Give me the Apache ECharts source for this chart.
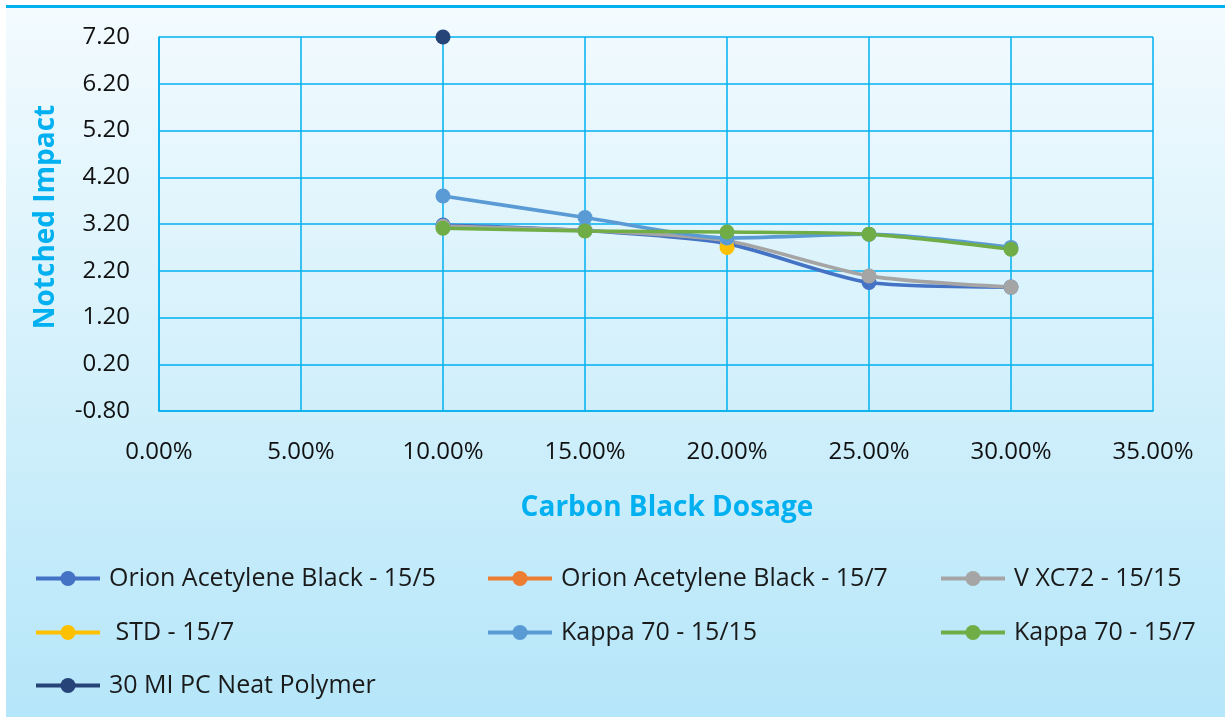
<!DOCTYPE html>
<html>
<head>
<meta charset="utf-8">
<script src="https://cdn.jsdelivr.net/npm/echarts@6/dist/echarts.min.js"></script>
<style>
  html, body { margin: 0; padding: 0; background: #ffffff; }
  #chart { width: 1225px; height: 719px; }
</style>
</head>
<body>
<div id="chart"></div>
<script>
// Carbon black dosage (fraction) on the x axis
const dosage = [0.10, 0.15, 0.20, 0.25, 0.30];

// Notched impact values per grade
const orion155 = [3.18, 3.06, 2.78, 1.95, 1.85];
const orion157 = [];
const vxc72 = [3.15, 3.06, 2.84, 2.09, 1.85];
const std157 = [null, null, 2.70, null, null];
const kappa1515 = [3.80, 3.34, 2.90, 2.98, 2.70];
const kappa157 = [3.11, 3.05, 3.03, 2.98, 2.66];
const neatPolymer = [7.20, null, null, null, null];

// Y axis tick labels
const yTicks = [-0.8, 0.2, 1.2, 2.2, 3.2, 4.2, 5.2, 6.2, 7.2];

const seriesDefs = [
  { name: 'Orion Acetylene Black - 15/5', values: orion155, color: '#4472C4' },
  { name: 'Orion Acetylene Black - 15/7', values: orion157, color: '#ED7D31' },
  { name: 'V XC72 - 15/15', values: vxc72, color: '#A5A5A5' },
  { name: ' STD - 15/7', values: std157, color: '#FFC000' },
  { name: 'Kappa 70 - 15/15', values: kappa1515, color: '#5B9BD5' },
  { name: 'Kappa 70 - 15/7', values: kappa157, color: '#70AD47' },
  { name: '30 MI PC Neat Polymer', values: neatPolymer, color: '#264478' }
];

const font = 'Open Sans, Liberation Sans, sans-serif';
const axisBlue = '#00B0F0';

const series = seriesDefs.map(s => ({
  name: s.name,
  type: 'line',
  smooth: 0.25,
  symbol: 'circle',
  symbolSize: 15,
  connectNulls: false,
  lineStyle: { width: 3.6, color: s.color },
  itemStyle: { color: s.color },
  data: s.values.map((v, i) => [dosage[i], v]).filter(p => p[1] !== null && p[1] !== undefined),
  z: 3
}));

// Legend placement: three columns, three rows
const colX = [34, 486, 939];
const rowY = [566, 620, 673];
const legends = seriesDefs.map((s, i) => ({
  data: [s.name],
  left: colX[i % 3],
  top: rowY[Math.floor(i / 3)],
  padding: 0,
  itemWidth: 64,
  itemHeight: 19,
  itemGap: 0,
  selectedMode: false,
  lineStyle: { width: 4 },
  textStyle: { fontSize: 25, color: '#1a1a1a', fontFamily: font, padding: [0, 0, 0, 4] }
}));

const chart = echarts.init(document.getElementById('chart'), null, { renderer: 'canvas' });
chart.setOption({
  animation: false,
  backgroundColor: 'transparent',
  graphic: [
    {
      type: 'rect', z: -10, silent: true,
      shape: { x: 6, y: 7, width: 1219, height: 710 },
      style: {
        fill: new echarts.graphic.LinearGradient(0, 0, 0, 1, [
          { offset: 0, color: '#F3FBFE' },
          { offset: 1, color: '#B5E6F9' }
        ])
      }
    },
    {
      type: 'rect', z: -9, silent: true,
      shape: { x: 6, y: 5, width: 1219, height: 3 },
      style: { fill: axisBlue }
    }
  ],
  legend: legends,
  grid: { left: 159, right: 72, top: 37, bottom: 308, containLabel: false },
  xAxis: [{
    type: 'value',
    min: 0, max: 0.35, interval: 0.05,
    name: 'Carbon Black Dosage',
    nameLocation: 'middle',
    nameGap: 83,
    nameTextStyle: { fontSize: 28, fontWeight: 'bold', color: axisBlue, fontFamily: font, padding: [0, 0, 0, 22] },
    axisLine: { show: true, onZero: false, lineStyle: { color: axisBlue, width: 1.5 } },
    axisTick: { show: false },
    axisLabel: {
      fontSize: 24, color: '#111', fontFamily: font, margin: 29,
      formatter: v => (v * 100).toFixed(2) + '%'
    },
    splitLine: { show: true, lineStyle: { color: axisBlue, width: 1.5 } }
  }],
  yAxis: [{
    type: 'value',
    min: -0.8, max: 7.2,
    name: 'Notched Impact',
    nameLocation: 'middle',
    nameGap: 99,
    nameTextStyle: { fontSize: 28, fontWeight: 'bold', color: axisBlue, fontFamily: font, padding: [0, 0, 0, 14] },
    axisLine: { show: true, onZero: false, lineStyle: { color: axisBlue, width: 1.5 } },
    axisTick: { show: false, customValues: yTicks },
    axisLabel: {
      customValues: yTicks,
      fontSize: 24, color: '#111', fontFamily: font, margin: 29,
      formatter: v => v.toFixed(2)
    },
    splitLine: { show: false }
  }, {
    // gridlines every unit across the same extent (-0.8 .. 7.2)
    type: 'value',
    min: 0, max: 8, interval: 1,
    position: 'left',
    axisLine: { show: false, onZero: false },
    axisTick: { show: false },
    axisLabel: { show: false },
    splitLine: { show: true, lineStyle: { color: axisBlue, width: 1.5 } }
  }],
  series: series
});
</script>
</body>
</html>
